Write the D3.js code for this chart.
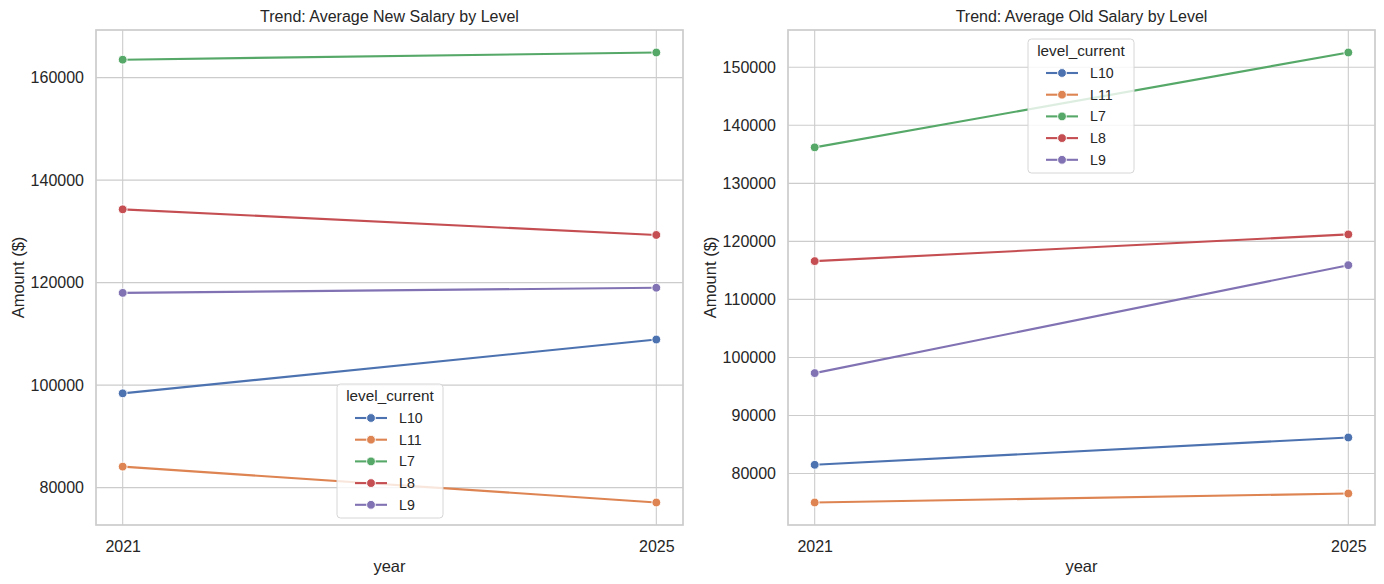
<!DOCTYPE html>
<html>
<head>
<meta charset="utf-8">
<script src="https://cdn.jsdelivr.net/npm/d3@7"></script>
<style>
    body { margin: 0; background: #fff; }
    svg { display: block; font-family: "Liberation Sans", Arial, sans-serif; }
</style>
</head>
<body>
<svg id="chart" width="1384" height="584"></svg>
<script>
// Data
const years = [2021, 2025];
const levels = ["L10", "L11", "L7", "L8", "L9"];
const colors = ["#4c72b0", "#dd8452", "#55a868", "#c44e52", "#8172b3"];

// one pair [2021, 2025] per level, same order as levels
const newSalary = [
    [98400, 108900],
    [84100, 77100],
    [163500, 164900],
    [134300, 129300],
    [118000, 119000]
];
const oldSalary = [
    [81500, 86200],
    [75000, 76550],
    [136200, 152550],
    [116600, 121200],
    [97300, 115900]
];

const newTicks = [80000, 100000, 120000, 140000, 160000];
const oldTicks = [80000, 90000, 100000, 110000, 120000, 130000, 140000, 150000];

const svg = d3.select("#chart");

/* Draws one seaborn-like panel */
const drawPanel = (opt) => {
    const { x0, x1, y0, y1, values, ticks, title, legendPos } = opt;
    const g = svg.append("g");

    // matplotlib style 5% margins
    const xScale = d3.scaleLinear()
        .domain([years[0] - 0.05 * (years[1] - years[0]), years[1] + 0.05 * (years[1] - years[0])])
        .range([x0, x1]);
    const allVals = values.flat();
    const lo = d3.min(allVals), hi = d3.max(allVals);
    const pad = (hi - lo) * 0.05;
    const yScale = d3.scaleLinear()
        .domain([lo - pad, hi + pad])
        .range([y1, y0]);

    // grid
    g.append("g").selectAll("line.hg")
        .data(ticks).enter().append("line")
        .attr("x1", x0).attr("x2", x1)
        .attr("y1", (d) => yScale(d)).attr("y2", (d) => yScale(d))
        .attr("stroke", "#cccccc").attr("stroke-width", 1.1);
    g.append("g").selectAll("line.vg")
        .data(years).enter().append("line")
        .attr("x1", (d) => xScale(d)).attr("x2", (d) => xScale(d))
        .attr("y1", y0).attr("y2", y1)
        .attr("stroke", "#cccccc").attr("stroke-width", 1.1);

    // axes through d3 (tick marks hidden like whitegrid)
    const yAxis = d3.axisLeft(yScale).tickValues(ticks).tickSize(0).tickPadding(12).tickFormat(d3.format("d"));
    g.append("g")
        .attr("transform", `translate(${x0},0)`)
        .call(yAxis)
        .call((a) => a.select(".domain").remove())
        .selectAll("text")
        .attr("font-size", 16).attr("fill", "#262626")
        .attr("font-family", "Liberation Sans, Arial, sans-serif");

    const xAxis = d3.axisBottom(xScale).tickValues(years).tickSize(0).tickPadding(16).tickFormat(d3.format("d"));
    g.append("g")
        .attr("transform", `translate(0,${y1})`)
        .call(xAxis)
        .call((a) => a.select(".domain").remove())
        .selectAll("text")
        .attr("font-size", 16).attr("fill", "#262626")
        .attr("font-family", "Liberation Sans, Arial, sans-serif");

    // lines and markers
    const line = d3.line()
        .x((d, i) => xScale(years[i]))
        .y((d) => yScale(d));
    values.forEach((vals, k) => {
        g.append("path")
            .datum(vals)
            .attr("d", line)
            .attr("fill", "none")
            .attr("stroke", colors[k])
            .attr("stroke-width", 2.1);
        g.selectAll(null)
            .data(vals).enter().append("circle")
            .attr("cx", (d, i) => xScale(years[i]))
            .attr("cy", (d) => yScale(d))
            .attr("r", 4.4)
            .attr("fill", colors[k])
            .attr("stroke", "#fff")
            .attr("stroke-width", 0.9);
    });

    // spines
    g.append("rect")
        .attr("x", x0).attr("y", y0)
        .attr("width", x1 - x0).attr("height", y1 - y0)
        .attr("fill", "none")
        .attr("stroke", "#cccccc")
        .attr("stroke-width", 1.7);

    // title & labels
    g.append("text")
        .attr("x", (x0 + x1) / 2).attr("y", 22)
        .attr("text-anchor", "middle")
        .attr("font-size", 16)
        .attr("fill", "#262626")
        .text(title);
    g.append("text")
        .attr("x", (x0 + x1) / 2).attr("y", 572)
        .attr("text-anchor", "middle")
        .attr("font-size", 16.5)
        .attr("fill", "#262626")
        .text("year");
    g.append("text")
        .attr("transform", `translate(${x0 - 72},${(y0 + y1) / 2}) rotate(-90)`)
        .attr("text-anchor", "middle")
        .attr("font-size", 16.5)
        .attr("fill", "#262626")
        .text("Amount ($)");

    // legend
    const lg = g.append("g").attr("transform", `translate(${legendPos[0]},${legendPos[1]})`);
    lg.append("rect")
        .attr("width", 106).attr("height", 134)
        .attr("rx", 3.5)
        .attr("fill", "#fff").attr("fill-opacity", 0.8)
        .attr("stroke", "#d6d6d6").attr("stroke-width", 1);
    lg.append("text")
        .attr("x", 53).attr("y", 16.5)
        .attr("text-anchor", "middle")
        .attr("font-size", 15.3)
        .attr("fill", "#262626")
        .text("level_current");
    const items = lg.selectAll("g.item")
        .data(levels).enter().append("g")
        .attr("transform", (d, i) => `translate(0,${34 + i * 21.7})`);
    items.append("line")
        .attr("x1", 18).attr("x2", 50)
        .attr("stroke", (d, i) => colors[i])
        .attr("stroke-width", 2.1);
    items.append("circle")
        .attr("cx", 34).attr("r", 4.4)
        .attr("fill", (d, i) => colors[i])
        .attr("stroke", "#fff").attr("stroke-width", 0.9);
    items.append("text")
        .attr("x", 62).attr("y", 5)
        .attr("font-size", 14.2)
        .attr("fill", "#262626")
        .text((d) => d);
};

drawPanel({
    x0: 96, x1: 683, y0: 30, y1: 525,
    values: newSalary, ticks: newTicks,
    title: "Trend: Average New Salary by Level",
    legendPos: [337, 384]
});
drawPanel({
    x0: 788, x1: 1375, y0: 30, y1: 525,
    values: oldSalary, ticks: oldTicks,
    title: "Trend: Average Old Salary by Level",
    legendPos: [1028, 39]
});
</script>
</body>
</html>
